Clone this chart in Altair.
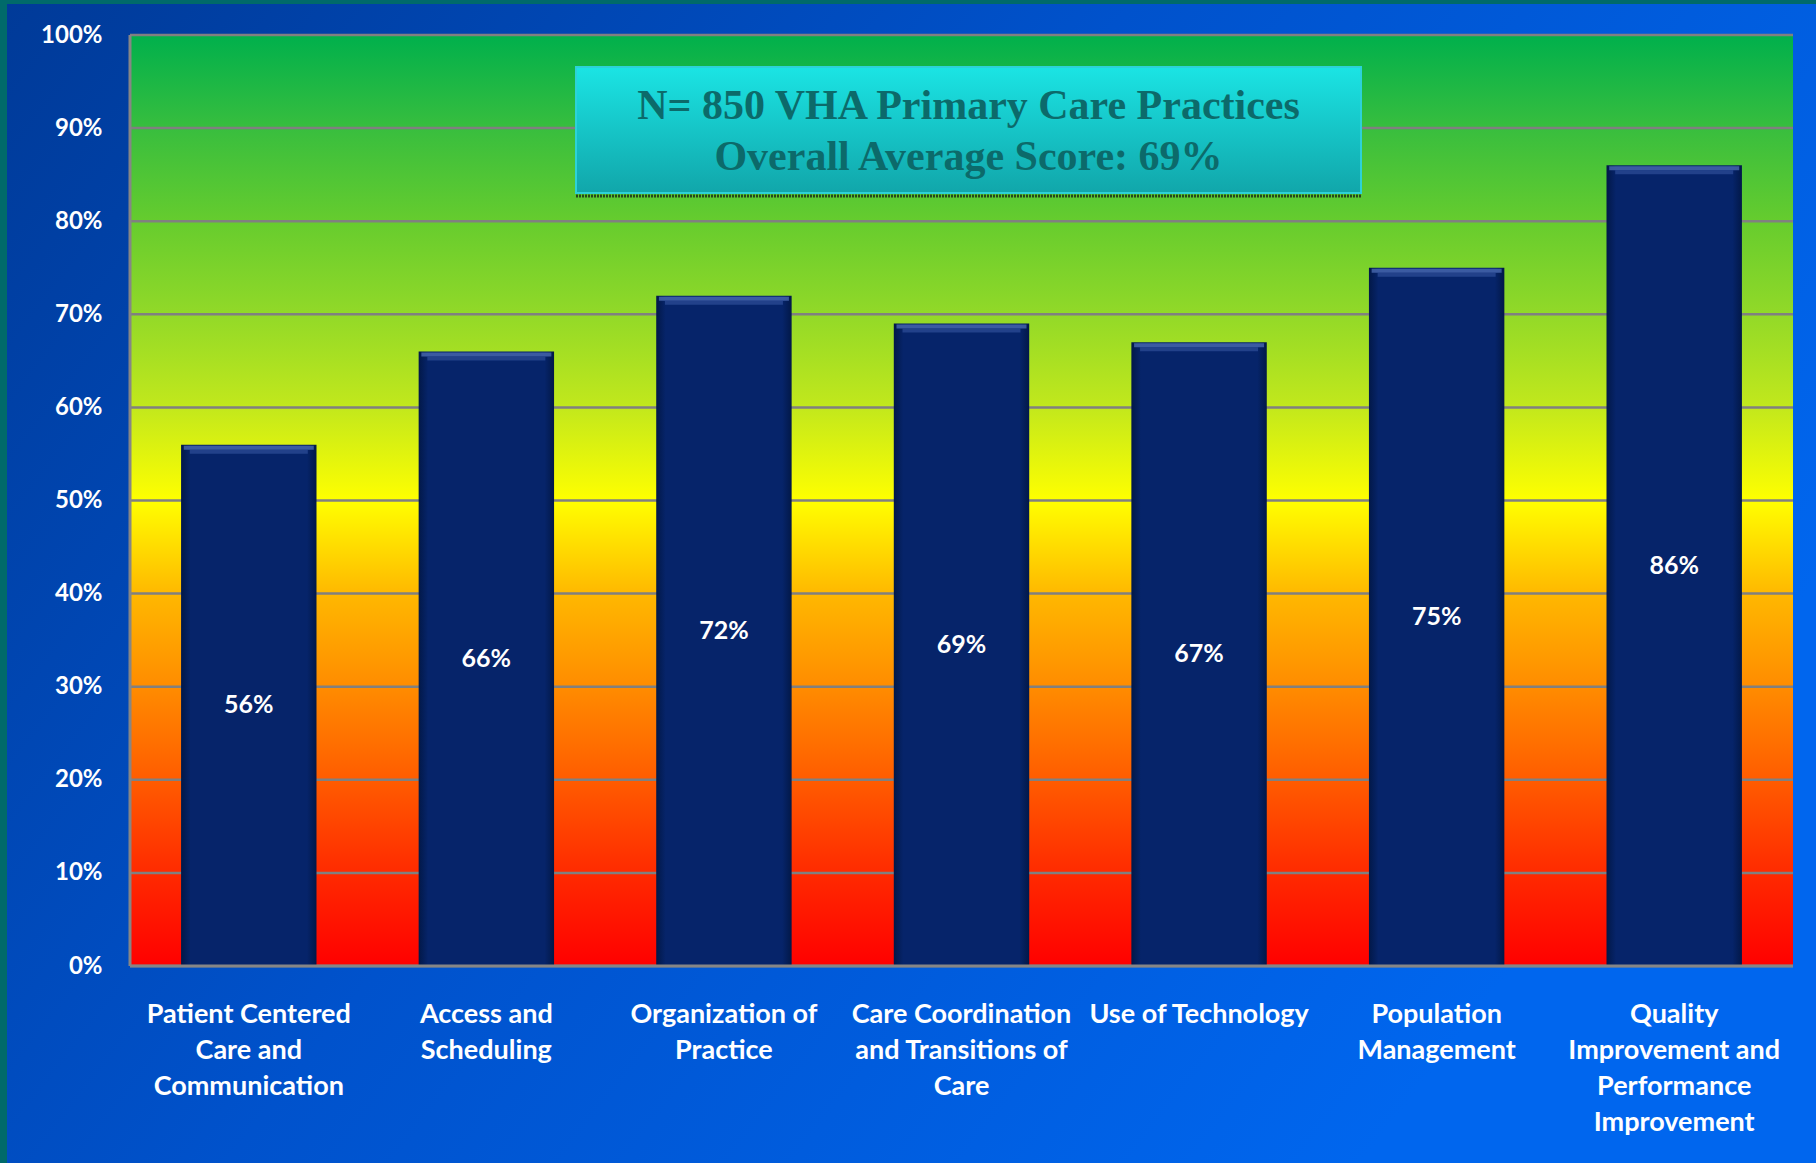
import altair as alt
import pandas as pd

# ---- data ----
categories = [
    "Patient Centered|Care and|Communication",
    "Access and|Scheduling",
    "Organization of|Practice",
    "Care Coordination|and Transitions of|Care",
    "Use of Technology",
    "Population|Management",
    "Quality|Improvement and|Performance|Improvement",
]
scores = [56, 66, 72, 69, 67, 75, 86]
y_ticks = [0, 10, 20, 30, 40, 50, 60, 70, 80, 90, 100]
title_lines = ["N= 850 VHA Primary Care Practices", "Overall Average Score: 69%"]

W, H = 1663, 931
PAD_L, PAD_T, PAD_R, PAD_B = 130, 35, 23, 197

df = pd.DataFrame({"category": categories, "score": scores})
ticks_df = pd.DataFrame({"t": y_ticks})
one = pd.DataFrame({"a": [0]})

x_scale = alt.Scale(domain=categories, paddingInner=0.43, paddingOuter=0.215)
y_scale = alt.Scale(domain=[0, 100], nice=False, zero=True)

WHITE_FONT = "Lato"

# page background (blue gradient)
bg = alt.Chart(one).mark_rect(
    fill={
        "gradient": "linear", "x1": 0, "y1": 0, "x2": 1, "y2": 0.5,
        "stops": [
            {"offset": 0, "color": "#003a98"},
            {"offset": 0.5, "color": "#0052cc"},
            {"offset": 1, "color": "#0066ee"},
        ],
    }
).encode(
    x=alt.value(-PAD_L), x2=alt.value(W + PAD_R),
    y=alt.value(-PAD_T), y2=alt.value(H + PAD_B),
)

teal_left = alt.Chart(one).mark_rect(color="#006a6a").encode(
    x=alt.value(-PAD_L), x2=alt.value(-PAD_L + 7),
    y=alt.value(-PAD_T), y2=alt.value(H + PAD_B),
)
teal_top = alt.Chart(one).mark_rect(color="#006a6a").encode(
    x=alt.value(-PAD_L), x2=alt.value(W + PAD_R),
    y=alt.value(-PAD_T), y2=alt.value(-PAD_T + 4),
)

# plot area gradient red -> yellow -> green
plot_bg = alt.Chart(one).mark_rect(
    fill={
        "gradient": "linear", "x1": 0, "y1": 1, "x2": 0, "y2": 0,
        "stops": [
            {"offset": 0.0, "color": "#ff0000"},
            {"offset": 0.1, "color": "#ff2a00"},
            {"offset": 0.2, "color": "#ff5c00"},
            {"offset": 0.3, "color": "#ff8c00"},
            {"offset": 0.4, "color": "#ffb800"},
            {"offset": 0.5, "color": "#ffff00"},
            {"offset": 0.6, "color": "#c2e81c"},
            {"offset": 0.7, "color": "#92d928"},
            {"offset": 0.8, "color": "#66cc2e"},
            {"offset": 0.9, "color": "#38be3e"},
            {"offset": 1.0, "color": "#00b04c"},
        ],
    }
).encode(x=alt.value(0), x2=alt.value(W), y=alt.value(0), y2=alt.value(H))

grid = alt.Chart(ticks_df).mark_rule(color="#808080", strokeWidth=2.5).encode(
    y=alt.Y("t:Q", scale=y_scale,
            axis=alt.Axis(values=y_ticks, labelExpr="datum.value + '%'",
                          labelFont=WHITE_FONT, labelFontWeight="bold", labelFontSize=24,
                          labelColor="white", labelPadding=28, ticks=False, domain=False,
                          grid=False, title=None, zindex=2)),
    x=alt.value(0), x2=alt.value(W),
)

left_line = alt.Chart(one).mark_rule(color="#868686", strokeWidth=3).encode(
    x=alt.value(0), y=alt.value(0), y2=alt.value(H)
)

bars = alt.Chart(df).mark_bar(
    fill={
        "gradient": "linear", "x1": 0, "y1": 0, "x2": 1, "y2": 0,
        "stops": [
            {"offset": 0, "color": "#021848"},
            {"offset": 0.07, "color": "#06246a"},
            {"offset": 0.93, "color": "#06246a"},
            {"offset": 1, "color": "#021848"},
        ],
    }
).encode(
    x=alt.X("category:N", scale=x_scale, sort=None,
            axis=alt.Axis(labelAngle=0, labelExpr="split(datum.label, '|')",
                          labelFont=WHITE_FONT, labelFontWeight="bold", labelFontSize=27,
                          labelLineHeight=36, labelColor="white", labelPadding=35,
                          labelLimit=0, ticks=False, domain=False, grid=False, title=None,
                          zindex=2)),
    y=alt.Y("score:Q", scale=y_scale),
)

bevel = alt.Chart(df).mark_tick(color="#5273bb", thickness=4, size=130, yOffset=3).encode(
    x=alt.X("category:N", scale=x_scale, sort=None),
    y=alt.Y("score:Q", scale=y_scale),
)
bevel2 = alt.Chart(df).mark_tick(color="#2f4f98", thickness=4, size=118, yOffset=7).encode(
    x=alt.X("category:N", scale=x_scale, sort=None),
    y=alt.Y("score:Q", scale=y_scale),
)

bottom_line = alt.Chart(one).mark_rule(color="#868686", strokeWidth=3).encode(
    y=alt.value(H), x=alt.value(0), x2=alt.value(W)
)

labels = alt.Chart(df).transform_calculate(
    half="datum.score / 2", txt="datum.score + '%'"
).mark_text(font=WHITE_FONT, fontWeight="bold", fontSize=25, color="white").encode(
    x=alt.X("category:N", scale=x_scale, sort=None),
    y=alt.Y("half:Q", scale=y_scale),
    text="txt:N",
)

BX1, BX2, BY1, BY2 = 446, 1231, 32, 158
box = alt.Chart(one).mark_rect(
    fill={
        "gradient": "linear", "x1": 0, "y1": 0, "x2": 0, "y2": 1,
        "stops": [
            {"offset": 0, "color": "#1be4e4"},
            {"offset": 1, "color": "#11a6aa"},
        ],
    },
    stroke="#2cd2d8", strokeWidth=2,
).encode(x=alt.value(BX1), x2=alt.value(BX2), y=alt.value(BY1), y2=alt.value(BY2))

box_shadow = alt.Chart(one).mark_rule(color="#27461c", strokeWidth=3, strokeDash=[2, 1]).encode(
    x=alt.value(BX1), x2=alt.value(BX2), y=alt.value(BY2 + 3)
)

t1 = alt.Chart(one).mark_text(font="Liberation Serif", fontWeight="bold", fontSize=42,
                              color="#0c6a6a").encode(
    x=alt.value((BX1 + BX2) / 2), y=alt.value(71), text=alt.value(title_lines[0]))
t2 = alt.Chart(one).mark_text(font="Liberation Serif", fontWeight="bold", fontSize=42,
                              color="#0c6a6a").encode(
    x=alt.value((BX1 + BX2) / 2), y=alt.value(122), text=alt.value(title_lines[1]))

chart = alt.layer(
    bg, teal_left, teal_top, plot_bg, grid, bars, bevel, bevel2, left_line, bottom_line,
    labels, box_shadow, box, t1, t2,
).properties(
    width=W, height=H,
    padding={"left": PAD_L, "top": PAD_T, "right": PAD_R, "bottom": PAD_B},
    autosize=alt.AutoSizeParams(type="none"),
    background="#0050c8",
).configure_view(stroke=None)

chart.save("out.html", embed_options={"renderer": "svg", "actions": False})
